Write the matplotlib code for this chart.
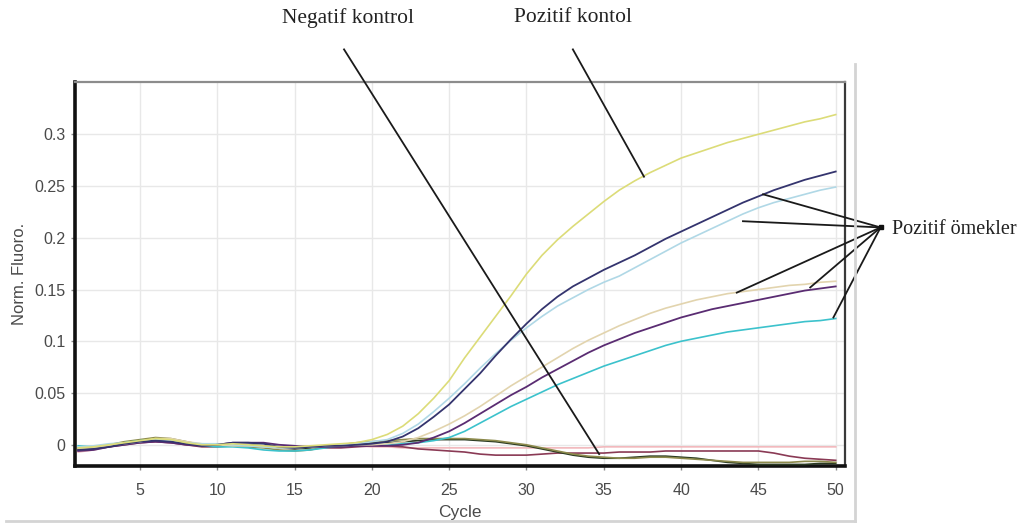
import numpy as np
import matplotlib
matplotlib.use('Agg')
import matplotlib.pyplot as plt
from matplotlib.lines import Line2D

# ---- data ----
cycles = list(range(1, 51))

yellow = [-0.003, -0.002, 0.000, 0.002, 0.004, 0.006, 0.005, 0.002, 0.000, 0.000,
          0.001, 0.000, -0.001, -0.002, -0.002, -0.001, 0.000, 0.001, 0.002, 0.005,
          0.010, 0.018, 0.030, 0.045, 0.062, 0.084, 0.104, 0.124, 0.144, 0.165,
          0.183, 0.198, 0.211, 0.223, 0.235, 0.246, 0.255, 0.263, 0.270, 0.277,
          0.282, 0.287, 0.292, 0.296, 0.300, 0.304, 0.308, 0.312, 0.315, 0.319]
navy = [-0.005, -0.004, -0.002, 0.001, 0.003, 0.004, 0.003, 0.001, -0.001, 0.000,
        0.002, 0.002, 0.001, -0.002, -0.003, -0.002, -0.001, -0.001, 0.000, 0.001,
        0.003, 0.008, 0.016, 0.027, 0.039, 0.054, 0.069, 0.086, 0.102, 0.117,
        0.131, 0.143, 0.153, 0.161, 0.169, 0.176, 0.183, 0.191, 0.199, 0.206,
        0.213, 0.220, 0.227, 0.234, 0.240, 0.246, 0.251, 0.256, 0.260, 0.264]
lightblue = [-0.002, -0.001, 0.001, 0.002, 0.003, 0.005, 0.004, 0.002, 0.001, 0.001,
             0.000, -0.001, -0.002, -0.003, -0.003, -0.002, -0.001, 0.000, 0.001, 0.003,
             0.005, 0.011, 0.020, 0.032, 0.045, 0.059, 0.074, 0.088, 0.101, 0.113,
             0.124, 0.134, 0.142, 0.150, 0.157, 0.163, 0.171, 0.179, 0.187, 0.195,
             0.202, 0.209, 0.216, 0.223, 0.229, 0.234, 0.238, 0.242, 0.246, 0.249]
beige = [-0.004, -0.003, -0.001, 0.001, 0.003, 0.006, 0.006, 0.003, 0.001, 0.000,
         -0.001, -0.001, -0.002, -0.003, -0.003, -0.002, -0.001, -0.001, 0.000, 0.000,
         0.001, 0.003, 0.007, 0.013, 0.020, 0.028, 0.037, 0.047, 0.057, 0.066,
         0.075, 0.084, 0.093, 0.101, 0.108, 0.115, 0.121, 0.127, 0.132, 0.136,
         0.140, 0.143, 0.146, 0.148, 0.150, 0.152, 0.154, 0.155, 0.157, 0.158]
purple = [-0.006, -0.005, -0.002, 0.000, 0.002, 0.003, 0.002, 0.000, -0.001, 0.000,
          0.002, 0.002, 0.002, 0.000, -0.001, -0.002, -0.002, -0.002, -0.001, -0.001,
          -0.001, 0.000, 0.002, 0.007, 0.013, 0.021, 0.030, 0.039, 0.048, 0.056,
          0.065, 0.073, 0.081, 0.089, 0.096, 0.102, 0.108, 0.113, 0.118, 0.123,
          0.127, 0.131, 0.134, 0.137, 0.140, 0.143, 0.146, 0.149, 0.151, 0.153]
cyan = [-0.001, -0.002, 0.000, 0.002, 0.004, 0.005, 0.004, 0.001, -0.001, -0.002,
        -0.002, -0.003, -0.005, -0.006, -0.006, -0.005, -0.003, -0.001, 0.000, 0.000,
        0.000, 0.001, 0.002, 0.004, 0.007, 0.013, 0.021, 0.029, 0.037, 0.044,
        0.051, 0.058, 0.064, 0.070, 0.076, 0.081, 0.086, 0.091, 0.096, 0.100,
        0.103, 0.106, 0.109, 0.111, 0.113, 0.115, 0.117, 0.119, 0.120, 0.122]
# negative / no-amplification wells
pink = [-0.007, -0.005, -0.002, 0.001, 0.002, 0.003, 0.002, 0.000, -0.001, -0.001,
        0.000, -0.001, -0.002, -0.003, -0.003, -0.002, -0.002, -0.001, -0.001, -0.002,
        -0.002, -0.003, -0.003, -0.003, -0.003, -0.003, -0.003, -0.003, -0.003, -0.003,
        -0.003, -0.003, -0.003, -0.003, -0.002, -0.002, -0.002, -0.002, -0.002, -0.002,
        -0.002, -0.002, -0.002, -0.002, -0.002, -0.002, -0.002, -0.002, -0.002, -0.002]
olive = [-0.003, -0.002, 0.000, 0.003, 0.005, 0.007, 0.006, 0.003, 0.000, -0.001,
         -0.001, -0.002, -0.003, -0.005, -0.006, -0.005, -0.002, 0.000, 0.002, 0.003,
         0.004, 0.005, 0.006, 0.006, 0.006, 0.006, 0.005, 0.004, 0.002, 0.000,
         -0.003, -0.006, -0.009, -0.011, -0.012, -0.013, -0.013, -0.012, -0.012, -0.013,
         -0.014, -0.015, -0.016, -0.017, -0.017, -0.017, -0.017, -0.016, -0.016, -0.017]
maroon = [-0.005, -0.004, -0.002, 0.000, 0.002, 0.003, 0.002, 0.000, -0.002, -0.002,
          -0.001, -0.002, -0.002, -0.002, -0.002, -0.002, -0.003, -0.003, -0.002, -0.001,
          -0.001, -0.002, -0.004, -0.005, -0.006, -0.007, -0.009, -0.010, -0.010, -0.010,
          -0.009, -0.008, -0.008, -0.008, -0.008, -0.007, -0.007, -0.007, -0.006, -0.006,
          -0.006, -0.006, -0.006, -0.006, -0.006, -0.008, -0.011, -0.013, -0.014, -0.015]
darkgreen = [-0.004, -0.002, 0.000, 0.002, 0.003, 0.005, 0.004, 0.002, 0.000, -0.001,
             0.000, 0.000, -0.001, -0.003, -0.004, -0.003, -0.001, 0.000, 0.001, 0.002,
             0.002, 0.003, 0.004, 0.005, 0.005, 0.005, 0.004, 0.003, 0.001, -0.001,
             -0.004, -0.007, -0.010, -0.012, -0.013, -0.013, -0.012, -0.011, -0.011, -0.012,
             -0.013, -0.015, -0.017, -0.018, -0.019, -0.019, -0.019, -0.019, -0.018, -0.018]

series = [
    (pink, '#f2b8bc', 1.2),
    (maroon, '#8a3a55', 1.2),
    (darkgreen, '#2a3a22', 1.2),
    (olive, '#8c8a4c', 1.2),
    (cyan, '#3cc2cc', 1.2),
    (purple, '#5a2c72', 1.3),
    (beige, '#e2d4ae', 1.2),
    (lightblue, '#b0d8e6', 1.2),
    (navy, '#34346e', 1.3),
    (yellow, '#dcdc78', 1.2),
]

# pointer targets (cycle, value) for the annotation lines
neg_target = (34.7, -0.009)
neg_start = (18.2, 0.382)
pos_target = (37.6, 0.259)
pos_start = (33.0, 0.382)
sample_hub = (52.9, 0.210)
sample_targets = [(45.3, 0.242), (44.0, 0.216), (43.6, 0.147), (48.35, 0.152), (49.85, 0.123)]

W, H = 1026, 525
fig = plt.figure(figsize=(W / 100, H / 100), dpi=100, facecolor='white')
ax = fig.add_axes([75 / W, 1 - 466 / H, 770 / W, 384 / H])

for vals, col, lw in series:
    ax.plot(cycles, vals, color=col, linewidth=lw, zorder=3)

ax.set_xlim(0.8, 50.6)
ax.set_ylim(-0.0205, 0.3505)
ax.set_xticks([5, 10, 15, 20, 25, 30, 35, 40, 45, 50])
ax.set_yticks([0, 0.05, 0.1, 0.15, 0.2, 0.25, 0.3])
ax.set_yticklabels(['0', '0.05', '0.1', '0.15', '0.2', '0.25', '0.3'])
ax.grid(True, color='#e8e8e8', linewidth=1.0, zorder=0)
ax.tick_params(direction='out', length=3, width=1, colors='#8a8a8a',
               labelcolor='#4a4a4a', labelsize=11.5)
ax.tick_params(axis='x', pad=9)
ax.tick_params(axis='y', pad=4)
for lab in ax.get_xticklabels() + ax.get_yticklabels():
    lab.set_fontfamily('Liberation Sans')

ax.spines['left'].set_color('#111111')
ax.spines['left'].set_linewidth(2.6)
ax.spines['bottom'].set_color('#111111')
ax.spines['bottom'].set_linewidth(2.6)
ax.spines['top'].set_color('#8c8c8c')
ax.spines['top'].set_linewidth(1.6)
ax.spines['right'].set_color('#3a3a3a')
ax.spines['right'].set_linewidth(1.6)

ax.set_xlabel('Cycle', fontsize=12.5, color='#4a4a4a', family='Liberation Sans', labelpad=5)
ax.set_ylabel('Norm. Fluoro.', fontsize=12, color='#4a4a4a', family='Liberation Sans', labelpad=5)

# outer panel frame
fig.add_artist(Line2D([855 / W, 855 / W], [1 - 64 / H, 1 - 521 / H], color='#d4d4d4', linewidth=2))
fig.add_artist(Line2D([6 / W, 855 / W], [1 - 521 / H, 1 - 521 / H], color='#d4d4d4', linewidth=2))

# annotation lines
line_kw = dict(color='#1a1a1a', linewidth=1.3, clip_on=False, zorder=6)
ax.plot([neg_start[0], neg_target[0]], [neg_start[1], neg_target[1]], **line_kw)
ax.plot([pos_start[0], pos_target[0]], [pos_start[1], pos_target[1]], **line_kw)
for tx, ty in sample_targets:
    ax.plot([sample_hub[0], tx], [sample_hub[1], ty], **line_kw)
ax.plot([sample_hub[0]], [sample_hub[1]], marker='s', markersize=3, color='#111111',
        clip_on=False, zorder=7)

serif = 'Liberation Serif'
fig.text(348 / W, 1 - 18 / H, 'Negatif kontrol', ha='center', va='center',
         fontsize=15.5, family=serif, color='#222222')
fig.text(573 / W, 1 - 18 / H, 'Pozitif kontol', ha='center', va='center',
         fontsize=15.5, family=serif, color='#222222')
fig.text(892 / W, 1 - 230 / H, 'Pozitif ömekler', ha='left', va='center',
         fontsize=14.5, family=serif, color='#222222')

fig.savefig('out.png', dpi=100, facecolor='white')
